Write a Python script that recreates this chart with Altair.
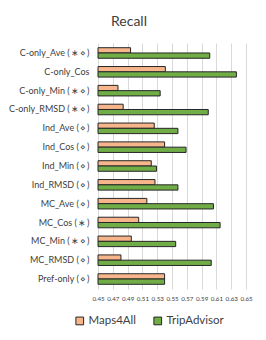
import altair as alt
import pandas as pd

T = "\u2009"
A = "\u2217"
D = "\u22c4"
categories = [f"C-only_Ave ({T}{A}{T}{D}{T})", "C-only_Cos", f"C-only_Min ({T}{A}{T}{D}{T})", f"C-only_RMSD ({T}{A}{T}{D}{T})",
              f"Ind_Ave ({T}{D}{T})", f"Ind_Cos ({T}{D}{T})", f"Ind_Min ({T}{D}{T})", f"Ind_RMSD ({T}{D}{T})",
              f"MC_Ave  ({T}{D}{T})", f"MC_Cos ({T}{A}{T})", f"MC_Min ({T}{A}{T}{D}{T})", f"MC_RMSD ({T}{D}{T})", f"Pref-only ({T}{D}{T})"]
maps4all = [0.494, 0.541, 0.477, 0.484, 0.526, 0.540, 0.522, 0.527, 0.516, 0.505, 0.495, 0.481, 0.540]
tripadvisor = [0.601, 0.637, 0.534, 0.599, 0.558, 0.569, 0.529, 0.558, 0.606, 0.615, 0.555, 0.603, 0.540]
series = ["Maps4All", "TripAdvisor"]
ticks = [0.45, 0.47, 0.49, 0.51, 0.53, 0.55, 0.57, 0.59, 0.61, 0.63, 0.65]

rows = []
for c, m, t in zip(categories, maps4all, tripadvisor):
    rows.append({"cat": c, "series": series[0], "value": m})
    rows.append({"cat": c, "series": series[1], "value": t})
df = pd.DataFrame(rows)

FONT = "Lato"

chart = alt.Chart(df).mark_bar(stroke="#262626", strokeWidth=1).encode(
    y=alt.Y("cat:N", sort=categories, title=None,
            scale=alt.Scale(paddingInner=0.44, paddingOuter=0.25),
            axis=alt.Axis(labelFontSize=9, labelColor="#404040", labelFont=FONT,
                          ticks=False, domain=False, labelPadding=9, labelLimit=200)),
    yOffset=alt.YOffset("series:N", sort=series),
    x=alt.X("value:Q", title=None,
            scale=alt.Scale(domain=[0.45, 0.65], zero=False, nice=False),
            axis=alt.Axis(values=ticks, format=".2f", labelFontSize=6.2, labelColor="#404040",
                          labelFont=FONT, ticks=False, domain=False, gridColor="#d9d9d9",
                          labelPadding=6, labelOverlap=False, labelFlush=False)),
    x2=alt.datum(0.45),
    color=alt.Color("series:N", sort=series,
                    scale=alt.Scale(domain=series, range=["#f6b58a", "#70ad47"]),
                    legend=alt.Legend(title=None, orient="none", legendX=-24, legendY=272,
                                      direction="horizontal", symbolType="square", symbolSize=60,
                                      symbolStrokeColor="#262626", symbolStrokeWidth=1,
                                      labelFontSize=11.5, labelFont=FONT, labelColor="#404040",
                                      columnPadding=14, labelOffset=3)),
).properties(
    width=148, height=246,
    title=alt.TitleParams("Recall", fontSize=14, font=FONT, fontWeight="normal",
                          color="#404040", dx=-43, offset=14),
    padding={"left": 90, "top": 35, "right": 12, "bottom": 40},
    autosize=alt.AutoSizeParams(type="none"),
).configure_view(stroke=None)

chart.save("out.html", embed_options={"renderer": "svg", "actions": False})
